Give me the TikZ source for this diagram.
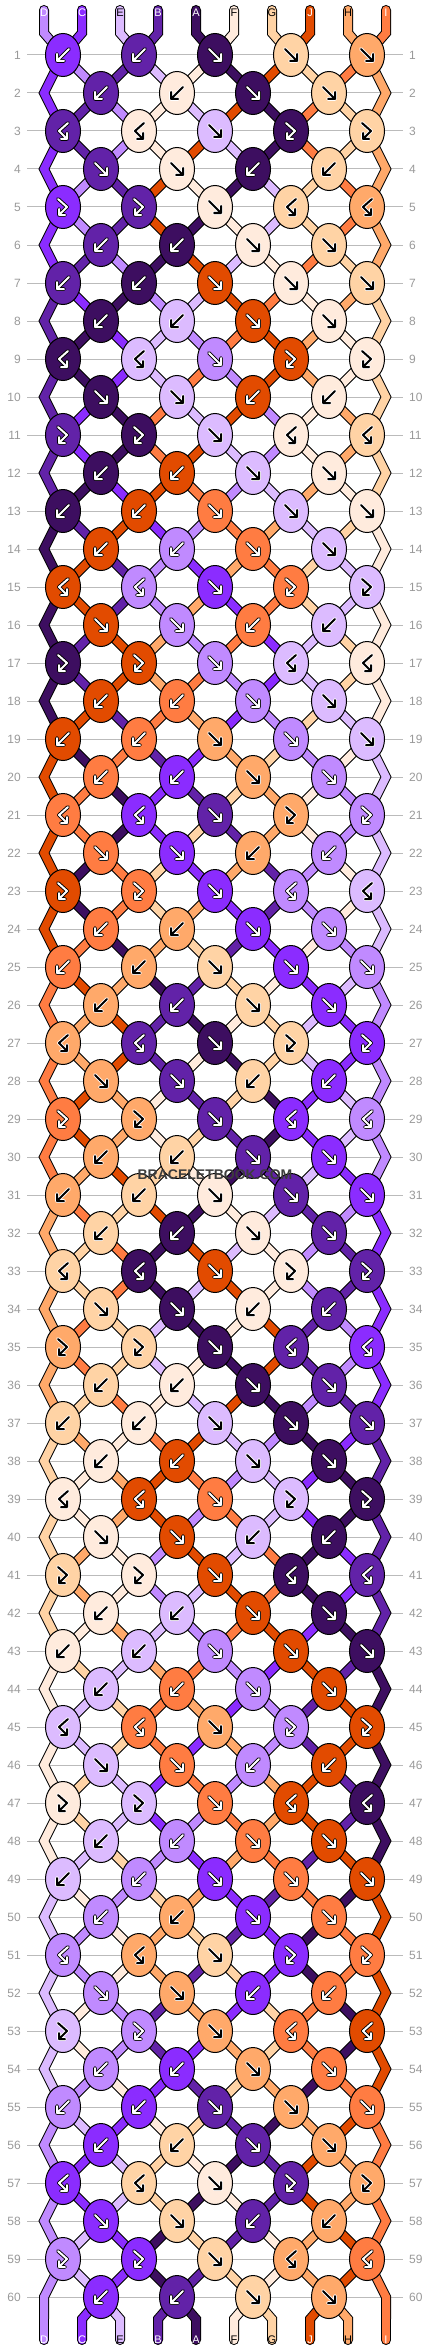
\documentclass[tikz,border=0pt]{standalone}
\usepackage{fontspec}
\setmainfont{Liberation Sans}
\usetikzlibrary{shapes.geometric}
\pgfdeclarelayer{grid}
\pgfdeclarelayer{sout}
\pgfdeclarelayer{sfill}
\pgfsetlayers{grid,sout,sfill,main}
\definecolor{cA}{HTML}{3D0E60}
\definecolor{cB}{HTML}{6222A8}
\definecolor{cC}{HTML}{8B2CFF}
\definecolor{cD}{HTML}{C08AFF}
\definecolor{cE}{HTML}{DCBBFF}
\definecolor{cF}{HTML}{FFEBDD}
\definecolor{cG}{HTML}{FFD3A5}
\definecolor{cH}{HTML}{FFA96A}
\definecolor{cI}{HTML}{FF7C42}
\definecolor{cJ}{HTML}{E24B00}
\definecolor{gridgray}{HTML}{BBBBBB}
\definecolor{labgray}{HTML}{999999}
\definecolor{wmgray}{HTML}{3C3C3C}
\def\acA{white}\def\acB{white}\def\acC{white}\def\acD{white}\def\acE{black}
\def\acF{black}\def\acG{black}\def\acH{black}\def\acI{white}\def\acJ{white}
\def\ocA{black}\def\ocB{black}\def\ocC{black}\def\ocD{black}\def\ocE{white}
\def\ocF{white}\def\ocG{white}\def\ocH{white}\def\ocI{black}\def\ocJ{black}
% knot types per row of the 6-row repeat: f, b, F = forward-backward, B = backward-forward
\def\defrow#1#2#3#4#5#6{%
 \expandafter\def\csname kt#1-1\endcsname{#2}%
 \expandafter\def\csname kt#1-2\endcsname{#3}%
 \expandafter\def\csname kt#1-3\endcsname{#4}%
 \expandafter\def\csname kt#1-4\endcsname{#5}%
 \expandafter\def\csname kt#1-5\endcsname{#6}}
\defrow1bbfff
\defrow2bbffx
\defrow3BBfFF
\defrow4ffbbx
\defrow5FFfBB
\defrow6bbffx
\def\tf{f}\def\tb{b}\def\tF{F}\def\tB{B}
\def\glyphf{(-6,-6)--(6,6) (6,-1)--(6,6)--(-1,6)}
\def\glyphb{(6,-6)--(-6,6) (-6,-1)--(-6,6)--(1,6)}
\def\glyphF{(-5,-8)--(4,0)--(-4,8) (-4,2)--(-4,8)--(2,8)}
\def\glyphB{(5,-8)--(-4,0)--(4,8) (4,2)--(4,8)--(-2,8)}
\def\ptname#1#2{%
  \ifnum#1=0 \edef\ptn{t-#2}\else
  \ifnum#1=61 \edef\ptn{b-#2}\else
  \ifodd#1\relax \pgfmathtruncatemacro{\kk}{(#2+1)/2}\edef\ptn{k-#1-\kk}\else
    \ifnum#2=1 \edef\ptn{eL-#1}\else
    \ifnum#2=10 \edef\ptn{eR-#1}\else
      \pgfmathtruncatemacro{\kk}{#2/2}\edef\ptn{k-#1-\kk}\fi\fi\fi\fi\fi}
\tikzset{
  knot/.style={ellipse, draw=black, line width=1pt, minimum width=35pt, minimum height=43pt, inner sep=0pt},
  strout/.style={draw=black, line width=10pt, line cap=round, line join=miter},
  strfill/.style={draw=#1, line width=8pt, line cap=round, line join=miter},
  gridline/.style={draw=gridgray, line width=1pt},
  rowlab/.style={text=labgray, font=\fontsize{12}{12}\selectfont, inner sep=0pt},
  endlab/.style={font=\fontsize{11}{11}\selectfont, inner sep=0pt},
  glyphout/.style={line width=3.8pt, line cap=round, line join=round},
  glyphin/.style={line width=2pt, line cap=round, line join=round},
  watermark/.style={text=wmgray, font=\bfseries\fontsize{14}{14}\selectfont, inner sep=0pt}
}
% draw all string segments with style str#1 (out or fill)
\newcommand\strloop[1]{%
\foreach \rw in {0,...,60}{
  \pgfmathtruncatemacro{\nr}{\rw+1}
  \pgfmathtruncatemacro{\nnr}{\rw+2}
  \foreach \ps in {1,...,10}{
    \edef\strc{c\csname s-\rw-\ps\endcsname}
    \ptname{\rw}{\ps}\let\nA\ptn
    \ptname{\nr}{\ps}\let\nB\ptn
    \def\isedge{0}\ifnum\ps=1 \def\isedge{1}\fi\ifnum\ps=10 \def\isedge{1}\fi
    \ifnum\rw=0
      \draw[str#1=\strc] (tt-\ps) -- (t-\ps) -- (\nB.center);
    \else\ifnum\rw=60
      \draw[str#1=\strc] (\nA.center) -- (b-\ps) -- (bb-\ps);
    \else\ifnum\isedge=1
      \ifodd\nr\relax\else
        \ptname{\nnr}{\ps}\let\nC\ptn
        \draw[str#1=\strc] (\nA.center) -- (\nB) -- (\nC.center);
      \fi
    \else
      \draw[str#1=\strc] (\nA.center) -- (\nB.center);
    \fi\fi\fi
  }
}}
\begin{document}
\begin{tikzpicture}[x=1pt,y=-1pt]
\useasboundingbox (0,0) rectangle (430,2352);
% ---- simulate the strings ----
\foreach \cc [count=\ps] in {D,C,E,B,A,F,G,J,H,I}{\expandafter\xdef\csname s-0-\ps\endcsname{\cc}}
\foreach \rw in {1,...,60}{
  \pgfmathtruncatemacro{\mo}{mod(\rw-1,6)+1}
  \pgfmathtruncatemacro{\prw}{\rw-1}
  \foreach \ps in {1,...,10}{\expandafter\xdef\csname s-\rw-\ps\endcsname{\csname s-\prw-\ps\endcsname}}
  \ifodd\rw\relax \def\nk{5}\def\off{-1}\else\def\nk{4}\def\off{+0}\fi
  \foreach \kn in {1,...,\nk}{
    \pgfmathtruncatemacro{\lpos}{2*\kn\off}
    \pgfmathtruncatemacro{\rpos}{\lpos+1}
    \edef\kL{\csname s-\prw-\lpos\endcsname}
    \edef\kR{\csname s-\prw-\rpos\endcsname}
    \edef\kT{\csname kt\mo-\kn\endcsname}
    \ifx\kT\tf \xdef\KC{\kL}\xdef\NL{\kR}\xdef\NR{\kL}\fi
    \ifx\kT\tb \xdef\KC{\kR}\xdef\NL{\kR}\xdef\NR{\kL}\fi
    \ifx\kT\tF \xdef\KC{\kL}\xdef\NL{\kL}\xdef\NR{\kR}\fi
    \ifx\kT\tB \xdef\KC{\kR}\xdef\NL{\kL}\xdef\NR{\kR}\fi
    \expandafter\xdef\csname kc-\rw-\kn\endcsname{\KC}
    \expandafter\xdef\csname kt-\rw-\kn\endcsname{\kT}
    \expandafter\xdef\csname s-\rw-\lpos\endcsname{\NL}
    \expandafter\xdef\csname s-\rw-\rpos\endcsname{\NR}
  }
}
% ---- string ends and their letters ----
\foreach \ps in {1,...,10}{
  \pgfmathsetmacro{\xx}{44+38*(\ps-1)}
  \coordinate (tt-\ps) at (\xx,10);
  \coordinate (t-\ps) at (\xx,33);
  \coordinate (b-\ps) at (\xx,2319);
  \coordinate (bb-\ps) at (\xx,2340);
  \edef\ltr{\csname s-0-\ps\endcsname}\edef\tc{\csname ac\ltr\endcsname}
  \node[endlab, text=\tc] (lt-\ps) at (\xx,13) {\ltr};
  \edef\ltr{\csname s-60-\ps\endcsname}\edef\tc{\csname ac\ltr\endcsname}
  \node[endlab, text=\tc] (lb-\ps) at (\xx,2340) {\ltr};
}
% ---- rows: numbers, knots ----
\foreach \rw in {1,...,60}{
  \pgfmathsetmacro{\yy}{55+38*(\rw-1)}
  \node[rowlab, anchor=east] (rl-\rw) at (21,\yy) {\rw};
  \node[rowlab, anchor=west] (rr-\rw) at (409,\yy) {\rw};
  \ifodd\rw\relax \def\nk{5}\def\xo{63}\else\def\nk{4}\def\xo{101}%
    \coordinate (eL-\rw) at (44,\yy);\coordinate (eR-\rw) at (386,\yy);\fi
  \foreach \kn in {1,...,\nk}{
    \pgfmathsetmacro{\xx}{\xo+76*(\kn-1)}
    \edef\kc{\csname kc-\rw-\kn\endcsname}
    \edef\kt{\csname kt-\rw-\kn\endcsname}
    \edef\fc{c\kc}
    \edef\ac{\csname ac\kc\endcsname}
    \edef\oc{\csname oc\kc\endcsname}
    \edef\gly{\csname glyph\kt\endcsname}
    \node[knot, fill=\fc] (k-\rw-\kn) at (\xx,\yy) {};
    \draw[glyphout, draw=\oc, shift={(k-\rw-\kn.center)}] \gly;
    \draw[glyphin, draw=\ac, shift={(k-\rw-\kn.center)}] \gly;
  }
}
% ---- grid lines ----
\begin{pgfonlayer}{grid}
\foreach \rw in {1,...,60}{
  \pgfmathsetmacro{\yy}{55+38*(\rw-1)}
  \draw[gridline] (27,\yy) -- (403,\yy);
}
\end{pgfonlayer}
% ---- strings between knots ----
\begin{pgfonlayer}{sout}
\strloop{out}
\end{pgfonlayer}
\begin{pgfonlayer}{sfill}
\strloop{fill}
\end{pgfonlayer}
\node[watermark] (wm) at (215,1175) {BRACELETBOOK.COM};
\end{tikzpicture}
\end{document}
